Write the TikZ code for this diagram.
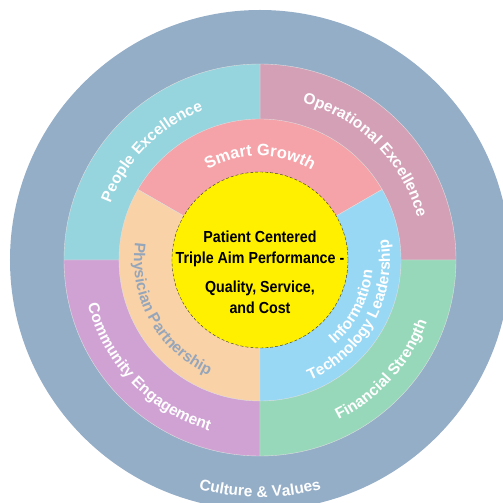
\documentclass[tikz,border=0pt]{standalone}
\usepackage{fontspec}
\usepackage{tikz}
\usetikzlibrary{decorations.text}
\setmainfont{Liberation Sans}
\newfontfamily\corefont{Liberation Sans}[FakeStretch=0.89]
\newcommand{\ringtxt}{\bfseries\fontsize{15.5}{18}\selectfont}
\newcommand{\growtxt}{\bfseries\fontsize{16.5}{19}\selectfont}
\newcommand{\coretxt}{\corefont\bfseries\fontsize{16}{21}\selectfont}
\definecolor{culturecol}{RGB}{148,174,200}
\definecolor{peoplecol}{RGB}{150,212,222}
\definecolor{operacol}{RGB}{212,160,182}
\definecolor{communitycol}{RGB}{208,162,212}
\definecolor{financecol}{RGB}{152,216,186}
\definecolor{growthcol}{RGB}{245,162,168}
\definecolor{physcol}{RGB}{250,210,168}
\definecolor{infocol}{RGB}{152,216,245}
\definecolor{coreyellow}{RGB}{255,240,0}
\definecolor{physink}{RGB}{150,166,186}

\begin{document}
\begin{tikzpicture}[x=1pt,y=1pt,
    sector/.style={draw=white!75!gray, line width=0.4pt},
    ringlabel/.style={decorate, decoration={text along path, text align=center, text color=white, text={|\ringtxt|#1}}}]

  \useasboundingbox (-260,-243) rectangle (243,260);
  \clip (-260,-243) rectangle (243,260);
  \fill[white] (-260,-243) rectangle (243,260);

  \fill[culturecol] (0,0) circle[radius=250];

  \filldraw[sector, fill=operacol] (0,0) -- (0:196) arc[start angle=0, end angle=90, radius=196] -- cycle;
  \filldraw[sector, fill=peoplecol] (0,0) -- (90:196) arc[start angle=90, end angle=180, radius=196] -- cycle;
  \filldraw[sector, fill=communitycol] (0,0) -- (180:196) arc[start angle=180, end angle=270, radius=196] -- cycle;
  \filldraw[sector, fill=financecol] (0,0) -- (270:196) arc[start angle=270, end angle=360, radius=196] -- cycle;

  \filldraw[sector, fill=growthcol] (0,0) -- (30:141) arc[start angle=30, end angle=150, radius=141] -- cycle;
  \filldraw[sector, fill=physcol] (0,0) -- (150:141) arc[start angle=150, end angle=270, radius=141] -- cycle;
  \filldraw[sector, fill=infocol] (0,0) -- (270:141) arc[start angle=270, end angle=390, radius=141] -- cycle;

  \node[circle, fill=coreyellow, draw=black!80, densely dashed, line width=0.4pt, minimum size=176pt, inner sep=0pt] (core) at (0,0) {};
  \node[align=center, font=\coretxt, inner sep=0pt] (coretext) at (0,-12) {Patient Centered\\Triple Aim Performance -\\[8pt]Quality, Service,\\and Cost};

  \path[ringlabel={People Excellence}] (195:160) arc[start angle=195, end angle=75, radius=160];
  \path[ringlabel={Operational Excellence}] (105:163) arc[start angle=105, end angle=-15, radius=163];
  \path[ringlabel={Community Engagement}] (164:178) arc[start angle=164, end angle=284, radius=178];
  \path[ringlabel={Financial Strength}] (258:178) arc[start angle=258, end angle=378, radius=178];
  \path[ringlabel={Culture {\&} Values}] (210:237) arc[start angle=210, end angle=330, radius=237];

  \path[ringlabel={Smart Growth}, decoration={text={|\growtxt|Smart Growth}}] (150:104) arc[start angle=150, end angle=30, radius=104];
  \path[ringlabel={Physician Partnership}, decoration={text color=physink}] (149:126) arc[start angle=149, end angle=269, radius=126];
  \path[ringlabel={Technology Leadership}] (271:130) arc[start angle=271, end angle=391, radius=130];
  \path[ringlabel={Information}] (273:113) arc[start angle=273, end angle=393, radius=113];

\end{tikzpicture}
\end{document}
